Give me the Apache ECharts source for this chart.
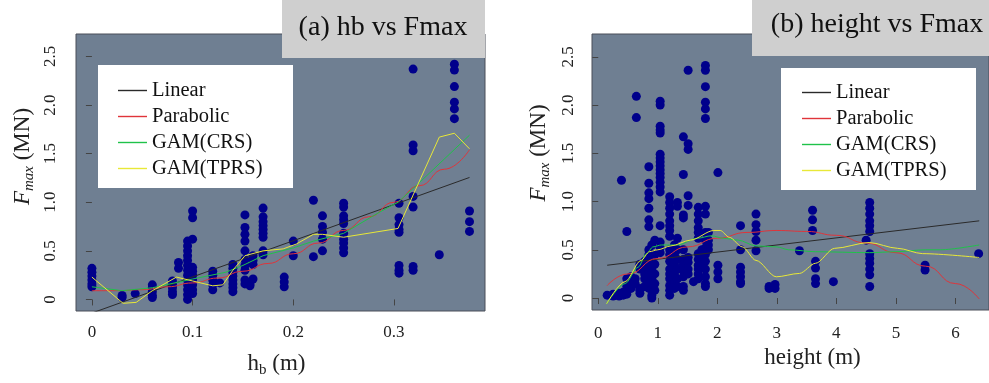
<!DOCTYPE html>
<html>
<head>
<meta charset="utf-8">
<script src="https://cdn.jsdelivr.net/npm/echarts@6/dist/echarts.min.js"></script>
<style>
  html, body { margin: 0; padding: 0; background: #ffffff; }
  #c { width: 989px; height: 383px; }
</style>
</head>
<body>
<div id="c"></div>
<script>
// ---- Panel (a): breaker height hb vs Fmax ----
// observations grouped by hb value: [hb, [Fmax, ...]]
const hbPoints = [
  [0,     [0.32, 0.28, 0.24, 0.2, 0.16, 0.13]],
  [0.03,  [0.04, 0.02]],
  [0.043, [0.06]],
  [0.06,  [0.15, 0.12, 0.08, 0.04, 0.02]],
  [0.08,  [0.19, 0.15, 0.12, 0.08, 0.05]],
  [0.086, [0.38, 0.32]],
  [0.095, [0.6, 0.55, 0.5, 0.45, 0.4, 0.35, 0.3, 0.25, 0.2, 0.15, 0.1, 0.05, 0.0]],
  [0.1,   [0.91, 0.84, 0.62, 0.33, 0.29, 0.25, 0.2, 0.15, 0.1, 0.06]],
  [0.12,  [0.29, 0.25, 0.2, 0.15, 0.1]],
  [0.127, [0.17]],
  [0.14,  [0.36, 0.32, 0.28, 0.24, 0.2, 0.16, 0.12, 0.08]],
  [0.152, [0.87, 0.74, 0.67, 0.6, 0.5, 0.41, 0.35, 0.3, 0.2, 0.16]],
  [0.157, [0.16, 0.14]],
  [0.16,  [0.45, 0.4, 0.36, 0.21]],
  [0.17,  [0.94, 0.85, 0.8, 0.76, 0.72, 0.68, 0.64, 0.5, 0.46]],
  [0.191, [0.23, 0.18, 0.13]],
  [0.2,   [0.6, 0.45]],
  [0.22,  [1.02, 0.44]],
  [0.229, [0.86, 0.75, 0.69, 0.62, 0.5]],
  [0.25,  [0.99, 0.95, 0.86, 0.82, 0.78, 0.68, 0.62, 0.58, 0.53, 0.48]],
  [0.305, [0.99, 0.84, 0.77, 0.72, 0.69, 0.35, 0.3, 0.27]],
  [0.319, [2.37, 1.59, 1.53, 1.06, 0.95, 0.34, 0.3]],
  [0.345, [0.46]],
  [0.36,  [2.42, 2.36, 2.19, 2.03, 1.96, 1.86]],
  [0.375, [0.91, 0.8, 0.7]]
];
const hbLinear = [[0, -0.14], [0.375, 1.255]];
const hbParabolic = [[0, 0.09], [0.025, 0.09], [0.05, 0.10], [0.075, 0.13], [0.1, 0.17],
  [0.125, 0.22], [0.15, 0.29], [0.175, 0.37], [0.2, 0.47], [0.225, 0.58], [0.25, 0.71],
  [0.275, 0.85], [0.3, 1.0], [0.325, 1.17], [0.35, 1.34], [0.375, 1.54]];
const hbCRS = [[0, 0.13], [0.03, 0.09], [0.06, 0.12], [0.1, 0.21], [0.133, 0.28], [0.15, 0.35],
  [0.17, 0.45], [0.2, 0.53], [0.22, 0.6], [0.25, 0.68], [0.286, 0.9], [0.304, 1.0],
  [0.322, 1.17], [0.375, 1.69]];
const hbTPRS = [[0, 0.23], [0.031, -0.04], [0.044, -0.03], [0.06, 0.09], [0.084, 0.23],
  [0.1, 0.19], [0.12, 0.14], [0.13, 0.15], [0.14, 0.3], [0.152, 0.45], [0.17, 0.5],
  [0.19, 0.52], [0.203, 0.57], [0.22, 0.67], [0.229, 0.67], [0.25, 0.64], [0.304, 0.73],
  [0.345, 1.67], [0.36, 1.71], [0.375, 1.55]];

// ---- Panel (b): structure height vs Fmax ----
const heightPoints = [
  [0.15, [0.03]],
  [0.25, [0.04, 0.02]],
  [0.35, [0.05, 0.02]],
  [0.39, [1.22]],
  [0.42, [0.03, 0.06]],
  [0.48, [0.69, 0.2, 0.12, 0.08, 0.04]],
  [0.55, [0.22, 0.15, 0.1]],
  [0.62, [0.2, 0.15]],
  [0.64, [2.09, 1.87]],
  [0.7,  [0.35, 0.3, 0.1, 0.08, 0.05]],
  [0.78, [0.38, 0.3, 0.25, 0.2, 0.12]],
  [0.85, [1.36, 1.19, 1.09, 1.03, 0.93, 0.81, 0.74, 0.5, 0.45, 0.4, 0.35, 0.3, 0.25, 0.2, 0.15, 0.1]],
  [0.9,  [0.55, 0.3, 0.2, 0.1, 0.03, 0.0]],
  [0.95, [0.6, 0.45, 0.35, 0.25, 0.15, 0.08]],
  [1.04, [2.04, 2.0, 1.78, 1.74, 1.71, 1.49, 1.45, 1.41, 1.37, 1.33, 1.29, 1.25, 1.2, 1.15, 1.1,
          0.75, 0.58, 0.52, 0.47]],
  [1.2,  [1.05, 0.99, 0.93, 0.87, 0.8, 0.75, 0.7, 0.64, 0.5, 0.45, 0.38, 0.3, 0.25, 0.2, 0.13, 0.08, 0.03]],
  [1.28, [0.55, 0.45, 0.35, 0.25, 0.15, 0.1]],
  [1.33, [0.99, 0.95, 0.62, 0.5, 0.4, 0.3, 0.2, 0.12]],
  [1.43, [1.67, 1.28, 0.86, 0.83, 0.5, 0.4, 0.35, 0.28, 0.22, 0.12, 0.08]],
  [1.51, [2.36, 1.6, 1.54, 1.06, 0.96, 0.42, 0.37, 0.3, 0.25]],
  [1.6,  [0.17]],
  [1.68, [0.94, 0.87, 0.8, 0.73, 0.68, 0.62, 0.46, 0.4, 0.34, 0.3, 0.25, 0.2]],
  [1.74, [0.5, 0.4, 0.32]],
  [1.8,  [2.41, 2.36, 2.19, 2.03, 1.96, 1.86, 0.95, 0.87, 0.68, 0.6, 0.52, 0.45, 0.38, 0.3, 0.22, 0.15, 0.12]],
  [1.85, [0.68, 0.6, 0.55, 0.5]],
  [2.01, [1.3, 0.34, 0.27, 0.2]],
  [2.39, [0.75, 0.5, 0.32, 0.27, 0.22, 0.17, 0.15]],
  [2.65, [0.87, 0.76, 0.69, 0.6, 0.49]],
  [2.87, [0.12, 0.1]],
  [2.97, [0.14, 0.1]],
  [3.38, [0.49]],
  [3.6,  [0.91, 0.81, 0.7]],
  [3.65, [0.38, 0.31, 0.2, 0.15]],
  [3.95, [0.17]],
  [4.5,  [0.6]],
  [4.56, [0.99, 0.93, 0.87, 0.8, 0.75, 0.69, 0.46, 0.41, 0.36, 0.3, 0.24, 0.12]],
  [5.49, [0.34, 0.29]],
  [6.39, [0.46]]
];
const htLinear = [[0.15, 0.34], [6.4, 0.80]];
const htParabolic = [[0.15, 0.13], [0.5, 0.25], [1, 0.41], [1.5, 0.53], [2, 0.62], [2.5, 0.68],
  [3, 0.70], [3.5, 0.69], [4, 0.65], [4.5, 0.57], [5, 0.47], [5.5, 0.33], [6, 0.15], [6.4, -0.01]];
const htCRS = [[0.14, -0.06], [0.45, 0.15], [0.67, 0.32], [0.81, 0.46], [0.92, 0.53], [1.06, 0.55],
  [1.33, 0.55], [1.67, 0.62], [1.9, 0.645], [2.1, 0.62], [2.35, 0.6], [2.65, 0.54], [3.0, 0.53],
  [3.2, 0.5], [3.65, 0.48], [4.56, 0.47], [5.0, 0.48], [5.5, 0.5], [5.75, 0.5], [6.4, 0.55]];
const htTPRS = [[0.14, -0.06], [0.45, 0.17], [0.72, 0.39], [0.86, 0.48], [1.0, 0.5], [1.22, 0.54],
  [1.55, 0.6], [1.94, 0.70], [2.05, 0.70], [2.2, 0.63], [2.42, 0.53], [2.65, 0.39], [2.99, 0.22],
  [3.38, 0.255], [3.65, 0.36], [3.97, 0.515], [4.55, 0.575], [5.03, 0.515], [5.45, 0.46], [6.4, 0.42]];

// ---- Axis ticks and labels ----
const hbTicks = [0, 0.1, 0.2, 0.3];
const heightTicks = [0, 1, 2, 3, 4, 5, 6];
const fmaxTicks = [0, 0.5, 1.0, 1.5, 2.0, 2.5];
const fitNames = ['Linear', 'Parabolic', 'GAM(CRS)', 'GAM(TPRS)'];
const fitColors = ['#2a2a2a', '#e0343a', '#1fc24a', '#e8e838'];

const SERIF = 'Liberation Serif, Times New Roman, serif';
const INK = '#222';
const flatten = groups => groups.flatMap(([x, ys]) => ys.map(y => [x, y]));

function xAxisFor(grid, min, max, ticks, rich, name, gap, margin, namePad) {
  return {
    gridIndex: grid, type: 'value', min, max,
    axisLine: { show: false }, splitLine: { show: false },
    axisTick: { show: true, customValues: ticks, length: 6, lineStyle: { color: '#444' } },
    axisLabel: { customValues: ticks, formatter: v => String(v), margin, fontFamily: SERIF, fontSize: 17, color: INK },
    name, nameLocation: 'middle', nameGap: gap,
    nameTextStyle: { fontFamily: SERIF, fontSize: 23, color: INK, rich, padding: namePad }
  };
}
function yAxisFor(grid, min, max, margin, namePad) {
  return {
    gridIndex: grid, type: 'value', min, max,
    axisLine: { show: false }, splitLine: { show: false },
    axisTick: { show: true, customValues: fmaxTicks, length: 6, lineStyle: { color: '#444' } },
    axisLabel: { customValues: fmaxTicks, rotate: 90, margin,
      formatter: v => v === 0 ? '0' : v.toFixed(1),
      fontFamily: SERIF, fontSize: 17, color: INK },
    name: '{i|F}{s|max}{m| (MN)}', nameLocation: 'middle', nameGap: 39,
    nameTextStyle: { padding: namePad, rich: {
      i: { fontFamily: SERIF, fontSize: 23, fontStyle: 'italic', color: INK, lineHeight: 28, verticalAlign: 'middle' },
      s: { fontFamily: SERIF, fontSize: 15, fontStyle: 'italic', color: INK, lineHeight: 15, verticalAlign: 'bottom' },
      m: { fontFamily: SERIF, fontSize: 23, color: INK, lineHeight: 28, verticalAlign: 'middle' }
    } }
  };
}

function fitSeries(idx, data, smooth) {
  return data.map((d, k) => ({
    name: fitNames[k], type: 'line', xAxisIndex: idx, yAxisIndex: idx, data: d,
    symbol: 'none', smooth: smooth[k], smoothMonotone: 'x', z: 3,
    lineStyle: { color: fitColors[k], width: 1 }, itemStyle: { color: fitColors[k] }
  }));
}

const plotBg = '#6f7f92';
// legend keys are plain short strokes in the fit colours
const legendBase = {
  data: fitNames.map((n, k) => ({ name: n, icon: 'rect', itemStyle: { color: fitColors[k] } })),
  orient: 'vertical', itemWidth: 29, itemHeight: 1.4, itemGap: 5, padding: 5,
  selectedMode: false, z: 200,
  textStyle: { fontFamily: SERIF, fontSize: 20.5, color: '#111', lineHeight: 20.5 }
};

const option = {
  animation: false,
  grid: [
    { left: 76, top: 34, width: 409, height: 280, show: true, backgroundColor: plotBg, borderColor: '#4a4f58', borderWidth: 1 },
    { left: 592, top: 34, width: 402, height: 276, show: true, backgroundColor: plotBg, borderColor: '#4a4f58', borderWidth: 1 }
  ],
  xAxis: [
    xAxisFor(0, -0.0158, 0.3904, hbTicks, {
      m: { fontFamily: SERIF, fontSize: 23, color: INK, lineHeight: 28, verticalAlign: 'middle' },
      s: { fontFamily: SERIF, fontSize: 15, color: INK, lineHeight: 15, verticalAlign: 'bottom' }
    }, '{m|h}{s|b}{m| (m)}', 39, 13, [0, 8, 0, 0]),
    xAxisFor(1, -0.105, 6.564, heightTicks, {}, 'height (m)', 36, 15, [0, 0, 0, 44])
  ],
  yAxis: [
    yAxisFor(0, -0.119, 2.731, 17, [0, 0, 0, 32]),
    yAxisFor(1, -0.124, 2.736, 15, [0, 0, 0, 38])
  ],
  legend: [
    Object.assign({}, legendBase, { left: 113, top: 75 }),
    Object.assign({}, legendBase, { left: 797, top: 77 })
  ],
  graphic: [
    { type: 'rect', z: 100, shape: { x: 282, y: 0, width: 203, height: 58 }, style: { fill: '#cfcfcf' } },
    { type: 'text', z: 101, x: 383, y: 28, style: { text: '(a) hb vs Fmax', font: '28px ' + SERIF, fill: '#111', align: 'center', verticalAlign: 'middle' } },
    { type: 'rect', z: 100, shape: { x: 752, y: 0, width: 237, height: 56 }, style: { fill: '#cfcfcf' } },
    { type: 'text', z: 101, x: 877, y: 25, style: { text: '(b) height vs Fmax', font: '28px ' + SERIF, fill: '#111', align: 'center', verticalAlign: 'middle' } },
    { type: 'rect', z: 100, shape: { x: 98, y: 65, width: 195, height: 123 }, style: { fill: '#ffffff' } },
    { type: 'rect', z: 100, shape: { x: 781, y: 68, width: 195, height: 122 }, style: { fill: '#ffffff' } }
  ],
  series: [
    { type: 'scatter', xAxisIndex: 0, yAxisIndex: 0, data: flatten(hbPoints), symbolSize: 9, z: 2,
      itemStyle: { color: '#00008b', opacity: 1 } },
    { type: 'scatter', xAxisIndex: 1, yAxisIndex: 1, data: flatten(heightPoints), symbolSize: 9, z: 2,
      itemStyle: { color: '#00008b', opacity: 1 } },
    ...fitSeries(0, [hbLinear, hbParabolic, hbCRS, hbTPRS], [false, true, false, false]),
    ...fitSeries(1, [htLinear, htParabolic, htCRS, htTPRS], [false, true, 0.3, 0.3])
  ]
};

const chart = echarts.init(document.getElementById('c'), null, { renderer: 'canvas' });
chart.setOption(option);
</script>
</body>
</html>
